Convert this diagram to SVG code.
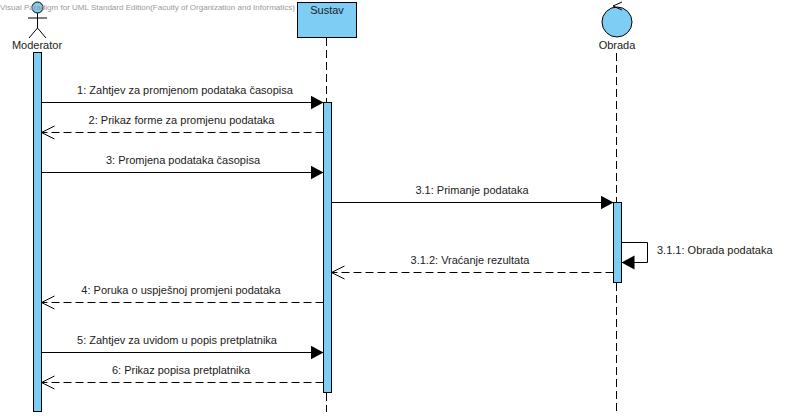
<svg xmlns="http://www.w3.org/2000/svg" width="787" height="416" viewBox="0 0 787 416">
<style>
text{font-family:"Liberation Sans",Arial,sans-serif;font-size:11px;fill:#222}
.c{text-anchor:middle}
.wm{font-size:7.8px;fill:#9a9a9a}
.box{fill:#7ecdf5;stroke:#000;stroke-width:1}
.life{stroke:#000;stroke-width:1;stroke-dasharray:8 4;fill:none}
.m{stroke:#000;stroke-width:1;fill:none}
.d{stroke-dasharray:8 4}
.fill{fill:#000;stroke:none}
</style>
<defs>
<marker id="solid" markerUnits="userSpaceOnUse" markerWidth="15" markerHeight="15" refX="13" refY="7" orient="auto"><path class="fill" d="M0,0L13,7L0,14Z"/></marker>
<marker id="open" markerUnits="userSpaceOnUse" markerWidth="15" markerHeight="15" refX="13" refY="7" orient="auto"><path d="M0,0.500L13,7L0,13.500" fill="none" stroke="#000"/></marker>
</defs>
<rect width="787" height="416" fill="#fff"/>
<g id="lifelines">
<path class="life" d="M326.500 38V102M326.500 393V412M616.500 53V202M616.500 283V412"/>
</g>
<g id="moderator">
<circle class="box" cx="37.500" cy="7.500" r="5.500"/>
<path class="m" d="M37.500 13V28M28 18H47M37.500 28L29 38M37.500 28L46 38"/>
<text class="c" x="37" y="49">Moderator</text>
<rect class="box" x="33.500" y="52.500" width="8" height="359"/>
</g>
<g id="sustav">
<rect class="box" x="297.500" y="2.500" width="59" height="35"/>
<text class="c" x="327" y="14">Sustav</text>
<rect class="box" x="323.500" y="102.500" width="8" height="290"/>
</g>
<g id="obrada">
<circle class="box" cx="617" cy="22" r="15"/>
<path class="m" d="M622 2L613 6L622 10"/>
<text class="c" x="617" y="49">Obrada</text>
<rect class="box" x="613.500" y="202.500" width="8" height="80"/>
</g>
<text class="wm" x="0" y="9.500" textLength="295" lengthAdjust="spacingAndGlyphs">Visual Paradigm for UML Standard Edition(Faculty of Organization and Informatics)</text>
<g id="connectors">
<path class="m" marker-end="url(#solid)" d="M41.500 102.500H323.500"/>
<path class="m d" marker-end="url(#open)" d="M323.500 132.500H41.500"/>
<path class="m" marker-end="url(#solid)" d="M41.500 172.500H323.500"/>
<path class="m" marker-end="url(#solid)" d="M331.500 202.500H613.500"/>
<path class="m" marker-end="url(#solid)" d="M621.500 242.500H647.500V262.500H621.500"/>
<path class="m d" marker-end="url(#open)" d="M613.500 272.500H331.500"/>
<path class="m d" marker-end="url(#open)" d="M323.500 302.500H41.500"/>
<path class="m" marker-end="url(#solid)" d="M41.500 352.500H323.500"/>
<path class="m d" marker-end="url(#open)" d="M323.500 382.500H41.500"/>
</g>
<g id="labels">
<text class="c" x="185" y="94">1: Zahtjev za promjenom podataka časopisa</text>
<text class="c" x="181.500" y="124">2: Prikaz forme za promjenu podataka</text>
<text class="c" x="183" y="164">3: Promjena podataka časopisa</text>
<text class="c" x="472" y="194">3.1: Primanje podataka</text>
<text x="657" y="254">3.1.1: Obrada podataka</text>
<text class="c" x="470" y="264">3.1.2: Vraćanje rezultata</text>
<text class="c" x="181" y="294">4: Poruka o uspješnoj promjeni podataka</text>
<text class="c" x="177" y="344">5: Zahtjev za uvidom u popis pretplatnika</text>
<text class="c" x="181" y="374">6: Prikaz popisa pretplatnika</text>
</g>
</svg>
